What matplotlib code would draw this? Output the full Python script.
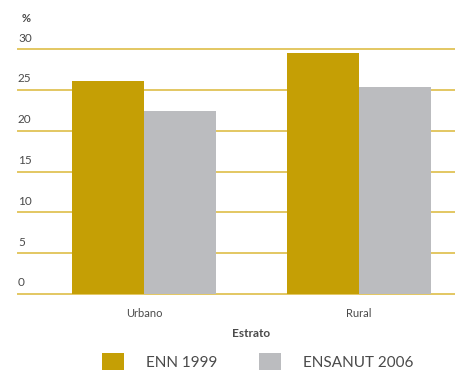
import matplotlib.pyplot as plt
import numpy as np

plt.rcParams['font.family'] = ['Lato', 'DejaVu Sans']

estratos = ['Urbano', 'Rural']
enn_1999 = [26.1, 29.5]
ensanut_2006 = [22.4, 25.3]
yticks = [0, 5, 10, 15, 20, 25, 30]

gold = '#c59f05'
grey = '#bbbcbf'
line_col = '#e3c762'
txt = '#4a4a4a'

fig = plt.figure(figsize=(4.55, 3.7), dpi=100)
ax = fig.add_axes([18 / 455, 76 / 370, 437 / 455, 245 / 370])

x = np.arange(len(estratos))
w = 0.335
b1 = ax.bar(x - w / 2, enn_1999, w, color=gold, zorder=3, label='ENN 1999')
b2 = ax.bar(x + w / 2, ensanut_2006, w, color=grey, zorder=3, label='ENSANUT 2006')

ax.set_xlim(-0.586, 1.447)
ax.set_ylim(0, 30)
for v in yticks:
    ax.axhline(v, color=line_col, lw=1.4, zorder=1, clip_on=False)
    ax.annotate(str(v), xy=(0, v), xycoords=('axes fraction', 'data'),
                xytext=(0, 11), textcoords='offset pixels',
                ha='left', va='center', fontsize=8.5, color=txt)
ax.annotate('%', xy=(0, 30), xycoords=('axes fraction', 'data'),
            xytext=(4, 31), textcoords='offset pixels',
            ha='left', va='center', fontsize=8, fontweight='bold', color=txt)

for s in ax.spines.values():
    s.set_visible(False)
ax.set_yticks([])
ax.set_xticks(x)
ax.set_xticklabels(estratos, fontsize=8, color=txt)
ax.tick_params(axis='x', length=0, pad=10)
ax.text(0.5, -0.16, 'Estrato', transform=ax.get_xaxis_transform(), ha='center',
        va='center', fontsize=8.5, fontweight='bold', color=txt)

fig.legend(handles=[b1, b2], loc='center left', bbox_to_anchor=(102 / 455, 8 / 370),
           ncol=2, frameon=False, fontsize=11, handlelength=1.44, handleheight=1.44,
           handletextpad=1.44, columnspacing=2.74, borderpad=0, borderaxespad=0,
           labelcolor=txt)

fig.savefig('out.png', dpi=100)
